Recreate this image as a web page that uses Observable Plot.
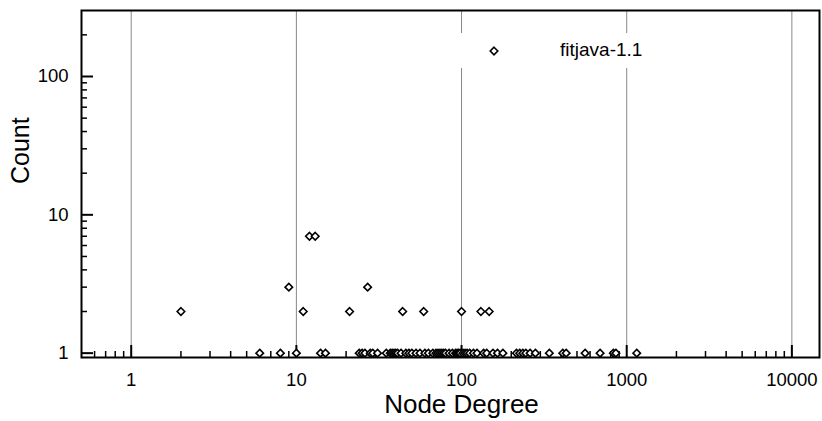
<!DOCTYPE html>
<html><head><meta charset="utf-8">
<script src="https://cdn.jsdelivr.net/npm/d3@7"></script>
<script src="https://cdn.jsdelivr.net/npm/@observablehq/plot@0.6"></script>
<style>
body{margin:0;background:#fff;}
#wrap{position:relative;width:822px;height:421px;font-family:"Liberation Sans",Arial,Helvetica,sans-serif;}
#legend{position:absolute;left:448px;top:33px;width:222px;height:35px;background:#fff;}
#legend svg{position:absolute;left:0;top:0;}
#legend span{position:absolute;left:112px;top:6px;font-size:19px;line-height:22px;color:#000;}
</style></head><body><div id="wrap"></div>
<script>
const seriesName = "fitjava-1.1";
const xLabel = "Node Degree";
const yLabel = "Count";
const degreesCount1 = [6, 8, 10, 14, 15, 24, 25, 26, 28, 29, 31, 35, 37, 38, 39, 40, 41, 43, 46, 48, 50, 53, 56, 60, 63, 67, 70, 72, 74, 76, 78, 80, 84, 88, 92, 94, 96, 98, 102, 105, 108, 112, 118, 124, 136, 142, 155, 165, 178, 215, 225, 235, 245, 260, 280, 340, 410, 430, 560, 690, 830, 860, 1150];
const degreesCount2 = [2, 11, 21, 44, 59, 100, 131, 147];
const degreesCount3 = [9, 27];
const degreesCount7 = [12, 13];
const xTickValues = [1, 10, 100, 1000, 10000];
const xMinorTickValues = [0.6, 0.7, 0.8, 0.9, 2, 3, 4, 5, 6, 7, 8, 9, 20, 30, 40, 50, 60, 70, 80, 90, 200, 300, 400, 500, 600, 700, 800, 900, 2000, 3000, 4000, 5000, 6000, 7000, 8000, 9000];
const yTickValues = [1, 10, 100];
const yMinorTickValues = [2, 3, 4, 5, 6, 7, 8, 9, 20, 30, 40, 50, 60, 70, 80, 90, 200];

const data = [
  ...degreesCount1.map(d => ({degree: d, count: 1})),
  ...degreesCount2.map(d => ({degree: d, count: 2})),
  ...degreesCount3.map(d => ({degree: d, count: 3})),
  ...degreesCount7.map(d => ({degree: d, count: 7}))
];

const W = 822, H = 421, mL = 81, mR = 3, mT = 10, mB = 64;
const innerW = W - mL - mR, innerH = H - mT - mB;
const font = "'Liberation Sans', Arial, Helvetica, sans-serif";

const chart = Plot.plot({
  width: W, height: H,
  marginLeft: mL, marginRight: mR, marginTop: mT, marginBottom: mB,
  style: {fontFamily: font, fontSize: "18.5px", color: "black", background: "white"},
  x: {type: "log", domain: [0.5, 14700], ticks: xTickValues, tickFormat: d => String(d), tickSize: 0, tickPadding: 15, label: null},
  y: {type: "log", domain: [0.93, 300], ticks: yTickValues, tickFormat: d => String(d), tickSize: 0, tickPadding: 13, label: null},
  marks: [
    Plot.ruleX(xTickValues, {x: d => d, stroke: "#888", strokeWidth: 1}),
    Plot.tickX(xMinorTickValues, {x: d => d, insetTop: innerH - 6, stroke: "black", strokeWidth: 1.5}),
    Plot.tickX(xTickValues, {x: d => d, insetTop: innerH - 12, stroke: "black", strokeWidth: 2}),
    Plot.tickY(yMinorTickValues, {y: d => d, insetRight: innerW - 6, stroke: "black", strokeWidth: 1.5}),
    Plot.tickY(yTickValues, {y: d => d, insetRight: innerW - 12, stroke: "black", strokeWidth: 2}),
    Plot.frame({stroke: "black", strokeWidth: 2}),
    Plot.dot(data, {x: "degree", y: "count", symbol: "diamond2", r: 3.4, fill: "white", stroke: "black", strokeWidth: 1.6}),
    Plot.text([xLabel], {text: d => d, frameAnchor: "bottom", dx: 11, dy: 55, fontSize: 26}),
    Plot.text([yLabel], {text: d => d, frameAnchor: "left", dx: -61, rotate: -90, fontSize: 25})
  ]
});
const wrap = document.getElementById("wrap");
wrap.appendChild(chart);

const legend = document.createElement("div");
legend.id = "legend";
const sym = d3.symbol(d3.symbolDiamond2, 3.4 * 3.4 * Math.PI)();
legend.innerHTML = `<svg width="222" height="35"><path d="${sym}" transform="translate(46,18)" fill="white" stroke="black" stroke-width="1.6"/></svg><span>${seriesName}</span>`;
wrap.appendChild(legend);
</script></body></html>
